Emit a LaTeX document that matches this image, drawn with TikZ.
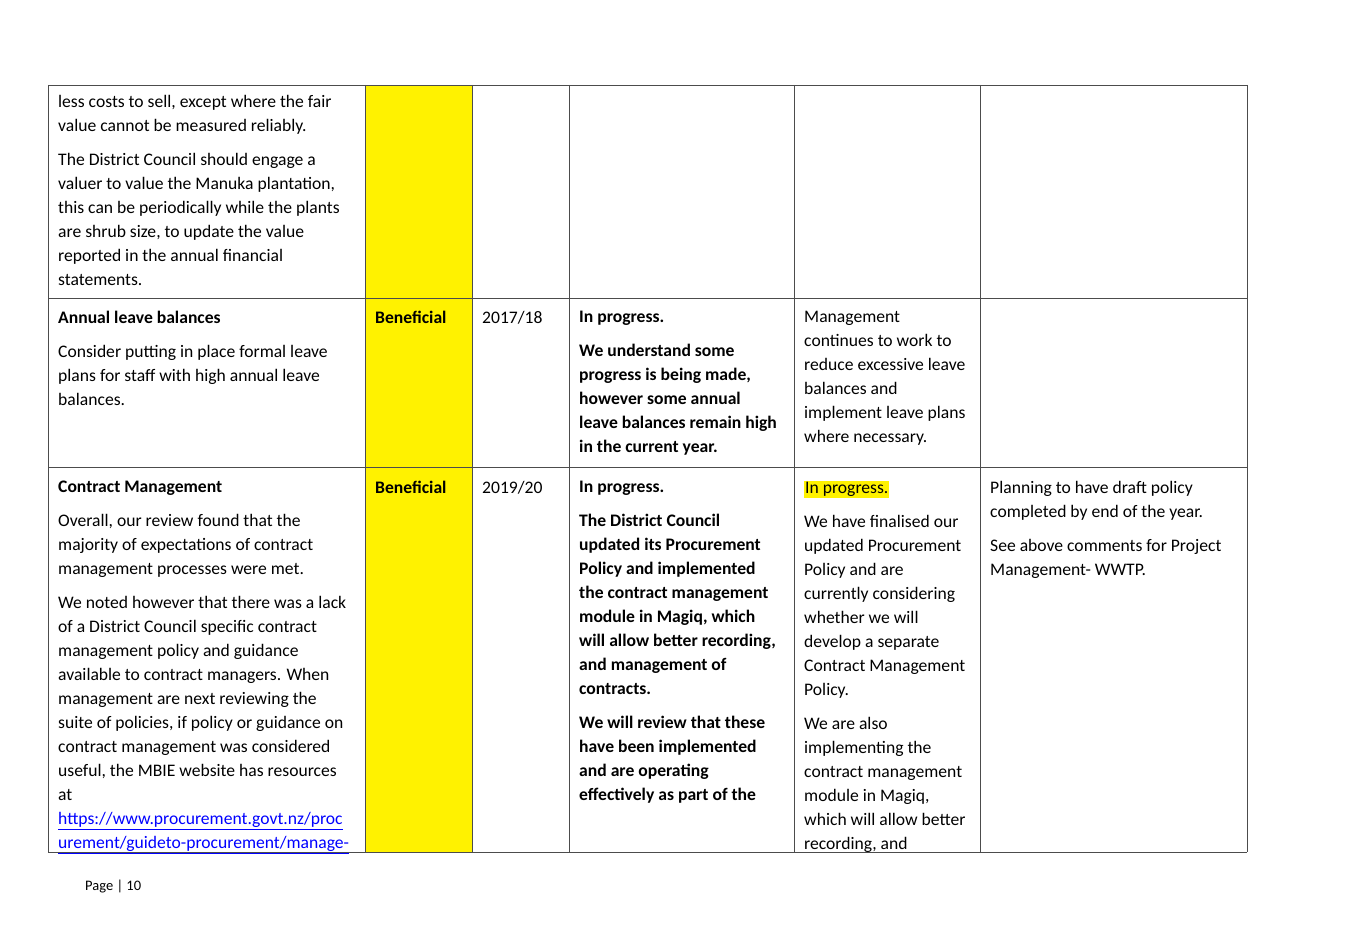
\documentclass[tikz,border=0pt]{standalone}
\usepackage{fontspec}
\setmainfont{Carlito}
\begin{document}
\begin{tikzpicture}[x=1pt,y=-1pt,
  cell/.style={anchor=north west,inner sep=0pt,align=left,font=\fontsize{17.6}{24}\selectfont},
  grid/.style={draw=black!70,line width=0.8pt}]
\useasboundingbox (0,0) rectangle (1360,939);
\fill[yellow] (365,85) rectangle (472,852);
\foreach \x in {48,365,472,569,794,980,1247} \draw[grid] (\x,85) -- (\x,852);
\foreach \y in {85,298,467,852} \draw[grid] (48,\y) -- (1247,\y);
\newcommand{\hl}[1]{{\setlength{\fboxsep}{1pt}\colorbox{yellow}{#1}}}
% row 1
\node[cell] (a1) at (58,95) {less costs to sell, except where the fair\\value cannot be measured reliably.\\[10pt]The District Council should engage a\\valuer to value the Manuka plantation,\\this can be periodically while the plants\\are shrub size, to update the value\\reported in the annual financial\\statements.};
% row 2
\node[cell] (b1) at (58,311) {\textbf{Annual leave balances}\\[10pt]Consider putting in place formal leave\\plans for staff with high annual leave\\balances.};
\node[cell] (b2) at (375,311) {\textbf{Beneficial}};
\node[cell] (b3) at (482,311) {2017/18};
\node[cell] (b4) at (579,311) {\textbf{In progress.}\\[10pt]\textbf{We understand some}\\\textbf{progress is being made,}\\\textbf{however some annual}\\\textbf{leave balances remain high}\\\textbf{in the current year.}};
\node[cell] (b5) at (804,311) {Management\\continues to work to\\reduce excessive leave\\balances and\\implement leave plans\\where necessary.};
% row 3
\node[cell] (c1) at (58,481) {\textbf{Contract Management}\\[10pt]Overall, our review found that the\\majority of expectations of contract\\management processes were met.\\[10pt]We noted however that there was a lack\\of a District Council specific contract\\management policy and guidance\\available to contract managers. When\\management are next reviewing the\\suite of policies, if policy or guidance on\\contract management was considered\\useful, the MBIE website has resources\\at\\\textcolor{blue}{\underline{https://www.procurement.govt.nz/proc}}\\\textcolor{blue}{\underline{urement/guideto-procurement/manage-}}};
\node[cell] (c2) at (375,481) {\textbf{Beneficial}};
\node[cell] (c3) at (482,481) {2019/20};
\node[cell] (c4) at (579,481) {\textbf{In progress.}\\[10pt]\textbf{The District Council}\\\textbf{updated its Procurement}\\\textbf{Policy and implemented}\\\textbf{the contract management}\\\textbf{module in Magiq, which}\\\textbf{will allow better recording,}\\\textbf{and management of}\\\textbf{contracts.}\\[10pt]\textbf{We will review that these}\\\textbf{have been implemented}\\\textbf{and are operating}\\\textbf{effectively as part of the}};
\node[cell] (c5) at (804,481) {\hl{In progress.}\\[10pt]We have finalised our\\updated Procurement\\Policy and are\\currently considering\\whether we will\\develop a separate\\Contract Management\\Policy.\\[10pt]We are also\\implementing the\\contract management\\module in Magiq,\\which will allow better\\recording, and};
\node[cell] (c6) at (990,481) {Planning to have draft policy\\completed by end of the year.\\[10pt]See above comments for Project\\Management- WWTP.};
\node[anchor=west,inner sep=0pt,font=\fontsize{14.5}{16}\selectfont] (pg) at (85,886) {Page | 10};
\end{tikzpicture}
\end{document}
